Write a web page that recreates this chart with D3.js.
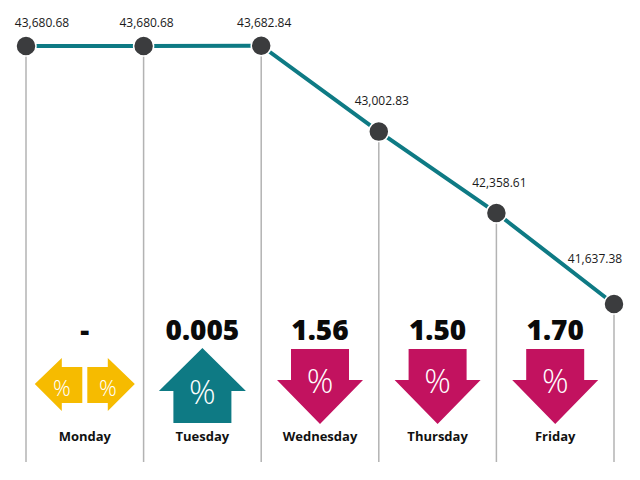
<!DOCTYPE html>
<html>
<head>
<meta charset="utf-8">
<script src="https://cdn.jsdelivr.net/npm/d3@7/dist/d3.min.js"></script>
<style>
  html, body { margin: 0; padding: 0; background: #ffffff; }
  svg { display: block; }
</style>
</head>
<body>
<svg id="chart" width="640" height="480"></svg>
<script>
// ---- data ----
const closeLabels = ["Start", "Monday", "Tuesday", "Wednesday", "Thursday", "Friday"];
const closeValues = [43680.68, 43680.68, 43682.84, 43002.83, 42358.61, 41637.38];
const days = ["Monday", "Tuesday", "Wednesday", "Thursday", "Friday"];
const pctLabels = ["-", "0.005", "1.56", "1.50", "1.70"];

// ---- styles ----
const W = 640, H = 480;
const teal = "#0e7a84", magenta = "#c2125f", yellow = "#f6bb00", dot = "#3b3c3e";
const fontFam = "'Open Sans', 'Liberation Sans', sans-serif";

const svg = d3.select("#chart");

const x = d3.scalePoint().domain(d3.range(closeValues.length)).range([26, 614]);
const y = d3.scaleLinear().domain([43680.68, 41637.38]).range([46, 304]);
const fmt = d3.format(",.2f");
const bottomY = 462;

// vertical guide lines
svg.append("g").selectAll("line").data(closeValues).join("line")
  .attr("x1", (d, i) => x(i)).attr("x2", (d, i) => x(i))
  .attr("y1", d => y(d)).attr("y2", bottomY)
  .attr("stroke", "#b3b3b3").attr("stroke-width", 1.5);

// main line
const line = d3.line().x((d, i) => x(i)).y(d => y(d));
svg.append("path").datum(closeValues)
  .attr("d", line).attr("fill", "none")
  .attr("stroke", teal).attr("stroke-width", 4);

// dots
svg.append("g").selectAll("circle").data(closeValues).join("circle")
  .attr("cx", (d, i) => x(i)).attr("cy", d => y(d)).attr("r", 10)
  .attr("fill", dot).attr("stroke", "#ffffff").attr("stroke-width", 1.5);

// value labels (kept inside the frame and lifted above a falling line)
function lineYAt(px) {
  const xs = closeValues.map((d, i) => x(i));
  for (let i = 0; i < xs.length - 1; i++) {
    if (px >= xs[i] && px <= xs[i + 1]) {
      const t = (px - xs[i]) / (xs[i + 1] - xs[i]);
      return y(closeValues[i]) + t * (y(closeValues[i + 1]) - y(closeValues[i]));
    }
  }
  return px < xs[0] ? y(closeValues[0]) : y(closeValues[xs.length - 1]);
}
svg.append("g").selectAll("text").data(closeValues).join("text")
  .each(function (d, i) {
    const lx = Math.max(42, Math.min(595, x(i) + 3));
    const slope = i > 0 ? (y(d) - y(closeValues[i - 1])) / (x(i) - x(i - 1)) : 0;
    const ly = Math.min(y(d), lineYAt(lx)) - 19 - 10 * Math.max(0, slope);
    d3.select(this).attr("x", lx).attr("y", ly);
  })
  .attr("text-anchor", "middle")
  .attr("font-family", fontFam).attr("font-size", 12).attr("fill", "#1a1a1a")
  .text(d => fmt(d));

// day columns
const cols = days.map((day, i) => {
  const prev = closeValues[i], cur = closeValues[i + 1];
  const dir = cur > prev ? "up" : cur < prev ? "down" : "flat";
  return { day, label: pctLabels[i], dir, cx: (x(i) + x(i + 1)) / 2 };
});

const g = svg.append("g").selectAll("g").data(cols).join("g");

// percentage numbers
g.append("text")
  .attr("x", d => d.cx).attr("y", 340)
  .attr("text-anchor", "middle")
  .attr("font-family", fontFam).attr("font-weight", 800).attr("font-size", 28)
  .attr("fill", "#0a0a0a")
  .text(d => d.label);

// day names
g.append("text")
  .attr("x", d => d.cx).attr("y", 441)
  .attr("text-anchor", "middle")
  .attr("font-family", fontFam).attr("font-weight", 700).attr("font-size", 13)
  .attr("fill", "#111")
  .text(d => d.day);

// arrow icons
function downArrow(cx) {
  const p = d3.path();
  p.moveTo(cx - 29, 349); p.lineTo(cx + 29, 349); p.lineTo(cx + 29, 380);
  p.lineTo(cx + 43, 380); p.lineTo(cx, 424); p.lineTo(cx - 43, 380);
  p.lineTo(cx - 29, 380); p.closePath();
  return p.toString();
}
function upArrow(cx) {
  const p = d3.path();
  p.moveTo(cx, 348); p.lineTo(cx + 43.5, 391); p.lineTo(cx + 29, 391);
  p.lineTo(cx + 29, 423); p.lineTo(cx - 29, 423); p.lineTo(cx - 29, 391);
  p.lineTo(cx - 43.5, 391); p.closePath();
  return p.toString();
}
function sideArrow(cx, s) {
  // s = -1 for left, +1 for right
  const p = d3.path();
  p.moveTo(cx + s * 2.5, 367); p.lineTo(cx + s * 23, 367); p.lineTo(cx + s * 23, 358);
  p.lineTo(cx + s * 50, 384); p.lineTo(cx + s * 23, 411); p.lineTo(cx + s * 23, 403);
  p.lineTo(cx + s * 2.5, 403); p.closePath();
  return p.toString();
}

g.each(function (d) {
  const el = d3.select(this);
  if (d.dir === "down" || d.dir === "up") {
    el.append("path")
      .attr("d", d.dir === "down" ? downArrow(d.cx) : upArrow(d.cx))
      .attr("fill", d.dir === "down" ? magenta : teal);
    el.append("text")
      .attr("x", d.cx).attr("y", d.dir === "down" ? 381 : 392)
      .attr("dy", "0.35em")
      .attr("text-anchor", "middle")
      .attr("font-family", fontFam).attr("font-weight", 300).attr("font-size", 33)
      .attr("fill", "#ffffff")
      .text("%");
  } else {
    [-1, 1].forEach(s => {
      el.append("path").attr("d", sideArrow(d.cx, s)).attr("fill", yellow);
      el.append("text")
        .attr("x", d.cx + s * 23).attr("y", 388)
        .attr("dy", "0.35em")
        .attr("text-anchor", "middle")
        .attr("font-family", fontFam).attr("font-weight", 300).attr("font-size", 22)
        .attr("fill", "#ffffff")
        .text("%");
    });
  }
});
</script>
</body>
</html>
